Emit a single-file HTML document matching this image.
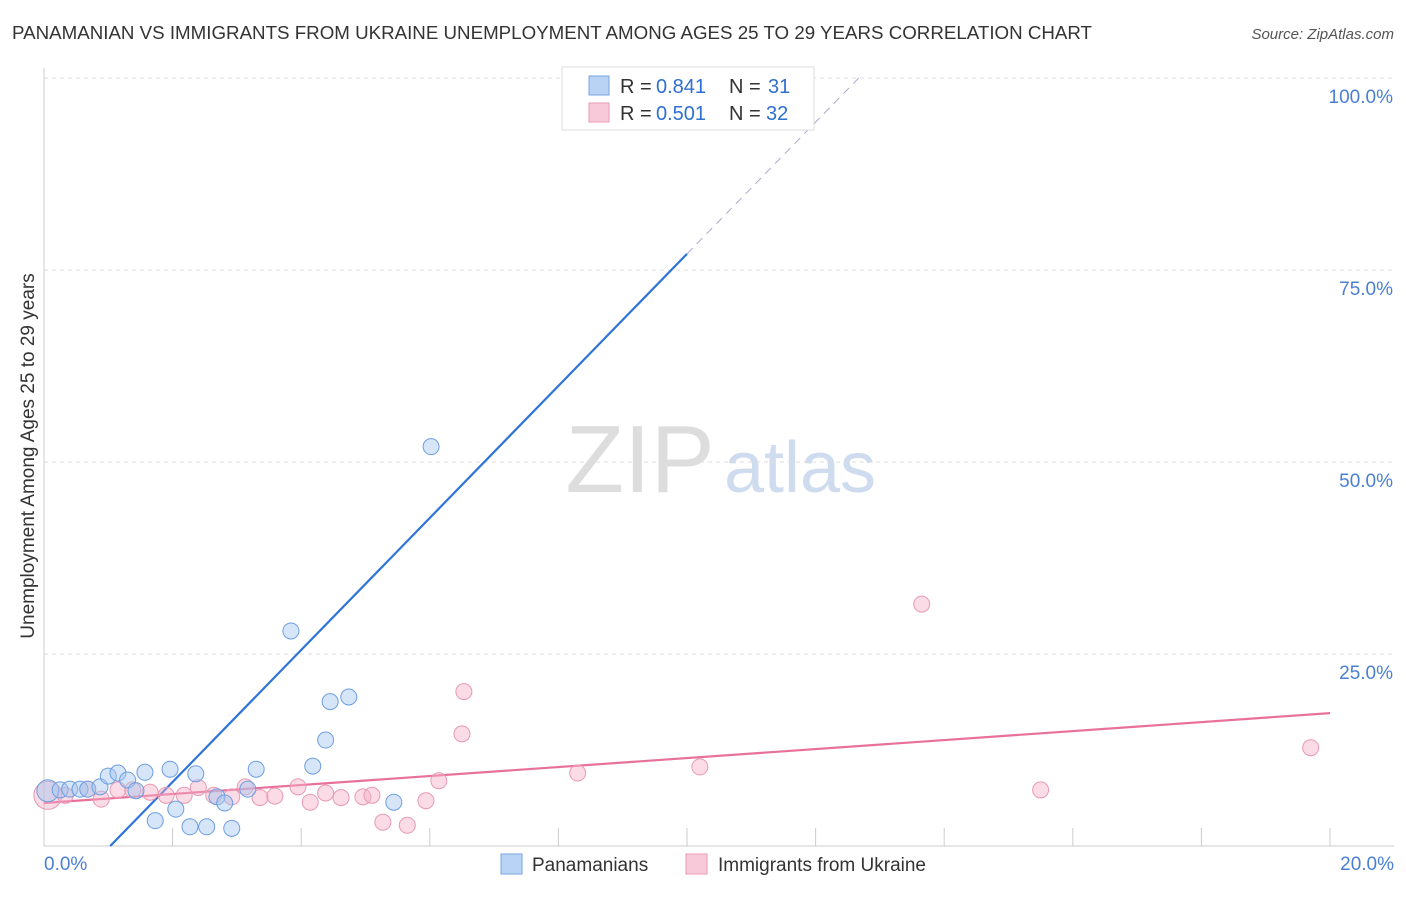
<!DOCTYPE html>
<html><head><meta charset="utf-8"><style>
body{margin:0;background:#fff;font-family:"Liberation Sans",sans-serif;}
svg text{font-family:"Liberation Sans",sans-serif;}
</style></head><body>
<svg id="chart" width="1406" height="892" xmlns="http://www.w3.org/2000/svg">
<text x="12" y="39" font-size="18" fill="#333" textLength="1080" lengthAdjust="spacingAndGlyphs">PANAMANIAN VS IMMIGRANTS FROM UKRAINE UNEMPLOYMENT AMONG AGES 25 TO 29 YEARS CORRELATION CHART</text>
<text x="1394" y="39" font-size="15" fill="#555" font-style="italic" text-anchor="end">Source: ZipAtlas.com</text>
<text transform="translate(34,456) rotate(-90)" font-size="19" fill="#333" text-anchor="middle">Unemployment Among Ages 25 to 29 years</text>
<text x="640" y="492" font-size="96" fill="#ddd" font-family="Liberation Serif" text-anchor="middle">ZIP</text>
<text x="800" y="492" font-size="72" fill="#cfdcef" text-anchor="middle">atlas</text>
<g id="grid"></g><g id="lines"></g><g id="pts"></g>
<g>
<rect x="562" y="67" width="252" height="63" fill="#fff" stroke="#ddd"/>
<rect x="589" y="76" width="20" height="19" fill="#b9d3f5" stroke="#7aa6e0"/>
<text x="620" y="93" font-size="20" fill="#333">R =</text>
<text x="656" y="93" font-size="20" fill="#2f6fd0">0.841</text>
<text x="729" y="93" font-size="20" fill="#333">N =</text>
<text x="768" y="93" font-size="20" fill="#2f6fd0">31</text>
<rect x="589" y="103" width="20" height="19" fill="#f8c9d8" stroke="#e89ab4"/>
<text x="620" y="120" font-size="20" fill="#333">R =</text>
<text x="656" y="120" font-size="20" fill="#2f6fd0">0.501</text>
<text x="729" y="120" font-size="20" fill="#333">N =</text>
<text x="766" y="120" font-size="20" fill="#2f6fd0">32</text>
</g>
<g>
<rect x="501" y="854" width="21" height="20" fill="#b9d3f5" stroke="#7aa6e0"/>
<text x="532" y="871" font-size="19" fill="#333">Panamanians</text>
<rect x="686" y="854" width="21" height="20" fill="#f8c9d8" stroke="#e89ab4"/>
<text x="718" y="871" font-size="19" fill="#333">Immigrants from Ukraine</text>
</g>
</svg>
<script>
const blueX=[0.06,0.25,0.4,0.56,0.68,0.87,1.0,1.15,1.3,1.43,1.57,1.73,1.96,2.05,2.27,2.36,2.53,2.69,2.81,2.92,3.17,3.3,3.84,4.18,4.38,4.45,4.74,5.44,6.02,9.27,10.0];
const blueY=[7.2,7.3,7.4,7.4,7.4,7.7,9.1,9.5,8.6,7.2,9.6,3.3,10.0,4.8,2.5,9.4,2.5,6.4,5.6,2.3,7.4,10.0,28.0,10.4,13.8,18.8,19.4,5.7,52.0,99.9,99.9];
const pinkX=[0.06,0.33,0.68,0.89,1.15,1.38,1.65,1.9,2.18,2.4,2.64,2.92,3.13,3.36,3.59,3.95,4.14,4.38,4.62,4.96,5.1,5.27,5.65,5.94,6.14,6.5,6.53,8.3,10.2,13.65,15.5,19.7];
const pinkY=[6.6,6.6,7.4,6.1,7.3,7.3,7.0,6.6,6.6,7.6,6.6,6.4,7.7,6.3,6.5,7.7,5.7,6.9,6.3,6.4,6.6,3.1,2.7,5.9,8.5,14.6,20.1,9.5,10.3,31.5,7.3,12.8];
const blueLine=[1.03,0,10.0,77.1,12.67,100];
const pinkLine=[0,5.6,20,17.3];
const yTicks=[25,50,75,100];
const xTickVals=[0,2,4,6,8,10,12,14,16,18,20];
const NS="http://www.w3.org/2000/svg";
const sx=v=>44+v*64.3, sy=v=>846-v*7.68;
function mk(t,a,p){const e=document.createElementNS(NS,t);for(const k in a)e.setAttribute(k,a[k]);p.appendChild(e);return e;}
const g=document.getElementById('grid');
yTicks.forEach(t=>{const l=mk('line',{x1:44,x2:1394,y1:sy(t),y2:sy(t),stroke:'#ddd','stroke-dasharray':'4,4'},g);


const tx=mk('text',{x:1393,y:sy(t)+25,'font-size':19,fill:'#4a7fd4','text-anchor':'end'},g);tx.textContent=t.toFixed(1)+'%';

});
const ax=mk('line',{x1:44,x2:44,y1:68,y2:846,stroke:'#ccc'},g);


const bx=mk('line',{x1:44,x2:1394,y1:846,y2:846,stroke:'#ccc'},g);


xTickVals.forEach(t=>{const l=mk('line',{x1:sx(t),x2:sx(t),y1:828,y2:846,stroke:'#ccc'},g);

});
[[0,'start'],[20,'end']].forEach(([t,a])=>{const tx=mk('text',{x:t?1394:44,y:870,'font-size':19,fill:'#4a7fd4','text-anchor':a},g);tx.textContent=t.toFixed(1)+'%';

});
const L=document.getElementById('lines');
let l1=mk('line',{x1:sx(blueLine[0]),y1:sy(blueLine[1]),x2:sx(blueLine[2]),y2:sy(blueLine[3]),stroke:'#2f74d8','stroke-width':2.2},L);


let l2=mk('line',{x1:sx(blueLine[2]),y1:sy(blueLine[3]),x2:sx(blueLine[4]),y2:sy(blueLine[5]),stroke:'#aac','stroke-width':1,'stroke-dasharray':'8,6'},L);


let l3=mk('line',{x1:sx(pinkLine[0]),y1:sy(pinkLine[1]),x2:sx(pinkLine[2]),y2:sy(pinkLine[3]),stroke:'#e8709a','stroke-width':2.2},L);


const P=document.getElementById('pts');
pinkX.forEach((x,i)=>{const c=mk('circle',{cx:sx(x),cy:sy(pinkY[i]),r:i==0?14:8,fill:'rgba(245,175,200,0.45)',stroke:'#e89ab4','stroke-width':1},P);

});
blueX.forEach((x,i)=>{const c=mk('circle',{cx:sx(x),cy:sy(blueY[i]),r:i==0?11:8,fill:'rgba(165,198,240,0.45)',stroke:'#6d9fe0','stroke-width':1},P);

});
</script>
</body></html>
